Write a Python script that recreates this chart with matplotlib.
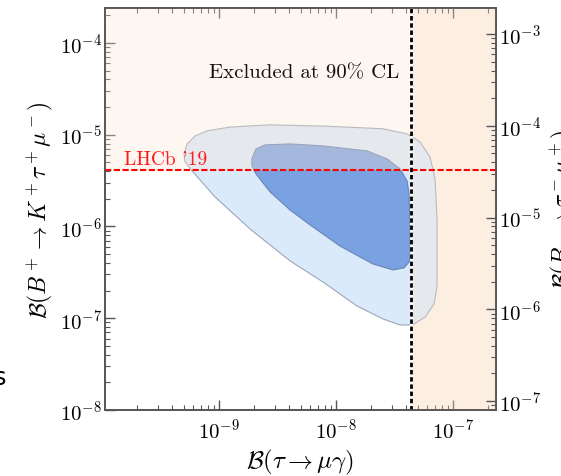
import matplotlib
matplotlib.use("Agg")
import matplotlib.pyplot as plt
import numpy as np
from matplotlib.ticker import LogLocator, NullFormatter

plt.rcParams['mathtext.fontset'] = 'cm'
plt.rcParams['font.family'] = 'serif'
plt.rcParams['font.serif'] = ['cmr10', 'DejaVu Serif']
plt.rcParams['axes.formatter.use_mathtext'] = True
plt.rcParams['axes.unicode_minus'] = False

# ---- data ----
# outer (lighter) allowed region: B(tau->mu gamma), B(B+ -> K+ tau+ mu-)
outer_x = [5.02e-10, 5.33e-10, 6.24e-10, 7.89e-10, 1.24e-9, 2.73e-9, 7.75e-9, 2.52e-8,
           4.05e-8, 5.22e-8, 6.36e-8, 7.02e-8, 7.30e-8, 7.30e-8, 6.89e-8, 5.77e-8,
           4.47e-8, 3.52e-8, 2.52e-8, 1.51e-8, 7.75e-9, 4.05e-9, 1.84e-9, 9.24e-10,
           5.88e-10, 5.12e-10]
outer_y = [6.17e-6, 7.93e-6, 9.68e-6, 1.10e-5, 1.21e-5, 1.28e-5, 1.24e-5, 1.16e-5,
           1.02e-5, 8.34e-6, 5.71e-6, 3.30e-6, 1.21e-6, 2.25e-7, 1.43e-7, 1.03e-7,
           8.44e-8, 8.44e-8, 9.82e-8, 1.36e-7, 2.48e-7, 4.21e-7, 9.39e-7, 2.10e-6,
           4.03e-6, 5.05e-6]
# inner (darker) allowed region
inner_x = [1.91e-9, 2.07e-9, 2.47e-9, 4.05e-9, 7.75e-9, 1.84e-8, 2.73e-8, 3.52e-8,
           4.05e-8, 4.21e-8, 4.29e-8, 4.29e-8, 3.81e-8, 3.07e-8, 2.07e-8, 1.08e-8,
           6.00e-9, 4.05e-9, 2.73e-9, 2.07e-9, 1.91e-9]
inner_y = [5.45e-6, 7.00e-6, 7.73e-6, 7.93e-6, 7.54e-6, 6.65e-6, 5.45e-6, 4.24e-6,
           3.13e-6, 2.26e-6, 9.39e-7, 4.21e-7, 3.53e-7, 3.36e-7, 3.90e-7, 6.12e-7,
           1.04e-6, 1.51e-6, 2.38e-6, 3.73e-6, 4.56e-6]

tau_mugamma_limit = 4.4e-8     # vertical limit
lhcb_limit = 4.1e-6            # horizontal limit (LHCb '19)
xlim = (1.06e-10, 2.33e-7)
ylim = (1.0e-8, 2.4e-4)
right_scale = 8.0              # B(Bs -> tau mu) / B(B+ -> K+ tau mu)

fig = plt.figure(figsize=(5.61, 4.77), dpi=100)
ax = fig.add_axes([105/561, 1-411/477, (496-105)/561, (411-9)/477])
ax.set_xscale('log')
ax.set_yscale('log')
ax.set_xlim(*xlim)
ax.set_ylim(*ylim)

wash = (252/255, 228/255, 210/255)

# excluded band base (under contours)
ax.fill_between([tau_mugamma_limit, xlim[1]], ylim[0], ylim[1],
                facecolor='#fdf5ea', lw=0, zorder=1)

# contours
ax.fill(outer_x, outer_y, facecolor='#dbeafb', edgecolor='#9aa7b6', lw=0.8, zorder=2)
ax.fill(inner_x, inner_y, facecolor='#7aa2e2', edgecolor='#6a84b4', lw=0.8, zorder=3)

# excluded regions (washed overlays)
ax.fill_between([xlim[0], tau_mugamma_limit], lhcb_limit, ylim[1],
                facecolor=wash, alpha=0.33, lw=0, zorder=4)
ax.fill_between([tau_mugamma_limit, xlim[1]], ylim[0], ylim[1],
                facecolor=wash, alpha=0.33, lw=0, zorder=4)

# limit lines
ax.axhline(lhcb_limit, color='#ff0000', lw=1.5, ls=(0, (3, 1.2)), zorder=6)
ax.axvline(tau_mugamma_limit, color='white', lw=2.0, zorder=6)
ax.axvline(tau_mugamma_limit, color='black', lw=2.0, ls=(0, (1.6, 1.0)), zorder=7)

ax.text(5.32e-9, 4.26e-5, 'Excluded at 90% CL', ha='center', va='baseline',
        fontsize=15, color='#111111', zorder=8)
ax.text(1.54e-10, 4.8e-6, "LHCb '19", ha='left', va='baseline',
        fontsize=14, color='#ff1a1a', zorder=8)

ax.set_xlabel(r'$\mathcal{B}(\tau\to\mu\gamma)$', fontsize=18, labelpad=4)
ax.set_ylabel(r'$\mathcal{B}(B^+\to K^+\tau^+\mu^-)$', fontsize=17, labelpad=4)

for s in ax.spines.values():
    s.set_color('#555555')
    s.set_linewidth(1.2)

ax.xaxis.set_major_locator(LogLocator(base=10, numticks=20))
ax.xaxis.set_minor_locator(LogLocator(base=10, subs=np.arange(2, 10), numticks=20))
ax.yaxis.set_major_locator(LogLocator(base=10, numticks=20))
ax.yaxis.set_minor_locator(LogLocator(base=10, subs=np.arange(2, 10), numticks=20))
ax.xaxis.set_minor_formatter(NullFormatter())
ax.yaxis.set_minor_formatter(NullFormatter())
ax.tick_params(which='both', direction='in', top=True, right=False, color='#555555',
               labelsize=15)
ax.tick_params(which='major', length=7, width=1.0)
ax.tick_params(which='minor', length=3.5, width=0.8)
ax.tick_params(axis='y', pad=2)
ax.tick_params(axis='x', pad=5)

ax2 = ax.twinx()
ax2.set_yscale('log')
ax2.set_ylim(ylim[0]*right_scale, ylim[1]*right_scale)
ax2.yaxis.set_major_locator(LogLocator(base=10, numticks=20))
ax2.yaxis.set_minor_locator(LogLocator(base=10, subs=np.arange(2, 10), numticks=20))
ax2.yaxis.set_minor_formatter(NullFormatter())
ax2.tick_params(which='both', direction='in', color='#555555', labelsize=15, pad=2)
ax2.tick_params(which='major', length=7, width=1.0)
ax2.tick_params(which='minor', length=3.5, width=0.8)
for s in ax2.spines.values():
    s.set_color('#555555')
    s.set_linewidth(1.2)

# right-hand label, clipped by the figure edge in the reference
fig.text(548/561, 0.5*(1-411/477 + 1-9/477), r'$\mathcal{B}(B_s\to\tau^-\mu^+)$',
         rotation=90, ha='left', va='center', fontsize=17)
# partial glyph from a neighbouring panel at the left edge
fig.text(-6/561, 1-385/477, 's', ha='left', va='baseline', fontsize=17,
         family='DejaVu Sans')

fig.savefig('out.png', dpi=100)
